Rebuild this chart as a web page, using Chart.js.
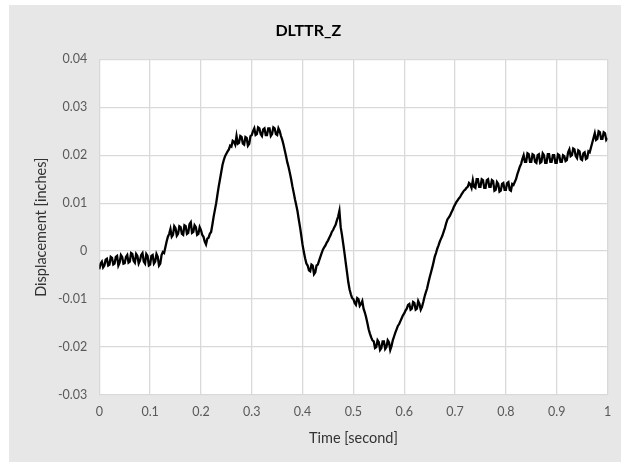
<!DOCTYPE html>
<html>
<head>
<meta charset="utf-8">
<script src="https://cdn.jsdelivr.net/npm/chart.js@4/dist/chart.umd.min.js"></script>
<style>
  html, body { margin: 0; padding: 0; background: #ffffff; }
  #wrap { position: absolute; left: 9px; top: 5px; width: 612px; height: 457px; }
</style>
</head>
<body>
<div id="wrap"><canvas id="c" width="612" height="457"></canvas></div>
<script>
// DLTTR_Z displacement record, sampled every 2.5 ms over one second
const chartTitle = 'DLTTR_Z';
const xTitle = 'Time [second]';
const yTitle = 'Displacement [inches]';
const sampleStep = 0.0025;

// displacement [inches], one value per sample (20 samples = 0.05 s per row)
const displacement = [
  -0.0038, -0.0026, -0.0022, -0.0034, -0.0030, -0.0018, -0.0016, -0.0030, -0.0028, -0.0012, -0.0014, -0.0028, -0.0026, -0.0012, -0.0010, -0.0030, -0.0024, -0.0008, -0.0012, -0.0026,
  -0.0025, -0.0012, -0.0008, -0.0024, -0.0022, -0.0004, -0.0006, -0.0020, -0.0024, -0.0006, -0.0010, -0.0026, -0.0020, -0.0008, -0.0004, -0.0022, -0.0026, -0.0006, -0.0010, -0.0030,
  -0.0028, -0.0010, -0.0008, -0.0026, -0.0022, -0.0006, -0.0012, -0.0030, -0.0026, -0.0008, -0.0002, -0.0004,  0.0008,  0.0020,  0.0030,  0.0036,  0.0046,  0.0030,  0.0034,  0.0052,
   0.0048,  0.0032,  0.0036,  0.0052,  0.0050,  0.0036,  0.0034,  0.0054,  0.0052,  0.0036,  0.0038,  0.0056,  0.0060,  0.0038,  0.0040,  0.0054,  0.0050,  0.0034,  0.0036,  0.0050,
   0.0044,  0.0034,  0.0030,  0.0020,  0.0014,  0.0026,  0.0028,  0.0036,  0.0040,  0.0055,  0.0072,  0.0086,  0.0100,  0.0118,  0.0135,  0.0150,  0.0165,  0.0180,  0.0190,  0.0198,
   0.0203,  0.0208,  0.0212,  0.0220,  0.0218,  0.0230,  0.0228,  0.0222,  0.0240,  0.0224,  0.0226,  0.0240,  0.0238,  0.0224,  0.0222,  0.0238,  0.0236,  0.0220,  0.0224,  0.0240,
   0.0242,  0.0250,  0.0256,  0.0242,  0.0244,  0.0258,  0.0256,  0.0244,  0.0240,  0.0254,  0.0256,  0.0242,  0.0242,  0.0256,  0.0256,  0.0240,  0.0244,  0.0258,  0.0256,  0.0244,
   0.0242,  0.0256,  0.0250,  0.0240,  0.0232,  0.0222,  0.0210,  0.0198,  0.0185,  0.0175,  0.0163,  0.0150,  0.0135,  0.0122,  0.0108,  0.0096,  0.0083,  0.0066,  0.0050,  0.0032,
   0.0013, -0.0002, -0.0015, -0.0026, -0.0030, -0.0040, -0.0042, -0.0028, -0.0030, -0.0048, -0.0044, -0.0030, -0.0028, -0.0020, -0.0012, -0.0004,  0.0003,  0.0008,  0.0012,  0.0018,
   0.0022,  0.0028,  0.0033,  0.0040,  0.0044,  0.0050,  0.0055,  0.0064,  0.0072,  0.0084,  0.0050,  0.0034,  0.0015, -0.0004, -0.0025, -0.0045, -0.0065, -0.0080, -0.0090, -0.0098,
  -0.0100, -0.0108, -0.0112, -0.0098, -0.0100, -0.0114, -0.0110, -0.0104, -0.0120, -0.0128, -0.0138, -0.0150, -0.0163, -0.0172, -0.0180, -0.0186, -0.0188, -0.0202, -0.0200, -0.0186,
  -0.0190, -0.0206, -0.0202, -0.0188, -0.0188, -0.0204, -0.0200, -0.0186, -0.0190, -0.0206, -0.0198, -0.0186, -0.0178, -0.0170, -0.0163, -0.0156, -0.0152, -0.0146, -0.0140, -0.0134,
  -0.0130, -0.0124, -0.0120, -0.0112, -0.0110, -0.0122, -0.0120, -0.0106, -0.0108, -0.0122, -0.0120, -0.0104, -0.0110, -0.0122, -0.0116, -0.0106, -0.0095, -0.0086, -0.0078, -0.0066,
  -0.0055, -0.0045, -0.0035, -0.0024, -0.0012, -0.0004,  0.0005,  0.0012,  0.0020,  0.0026,  0.0032,  0.0040,  0.0048,  0.0058,  0.0066,  0.0070,  0.0074,  0.0080,  0.0085,  0.0092,
   0.0097,  0.0102,  0.0106,  0.0110,  0.0113,  0.0118,  0.0122,  0.0126,  0.0128,  0.0132,  0.0134,  0.0142,  0.0139,  0.0132,  0.0148,  0.0134,  0.0132,  0.0150,  0.0150,  0.0134,
   0.0134,  0.0150,  0.0148,  0.0132,  0.0132,  0.0148,  0.0150,  0.0134,  0.0134,  0.0148,  0.0146,  0.0126,  0.0128,  0.0144,  0.0140,  0.0124,  0.0126,  0.0140,  0.0142,  0.0128,
   0.0128,  0.0142,  0.0144,  0.0128,  0.0126,  0.0140,  0.0138,  0.0144,  0.0150,  0.0160,  0.0168,  0.0176,  0.0182,  0.0192,  0.0200,  0.0186,  0.0186,  0.0204,  0.0202,  0.0186,
   0.0186,  0.0202,  0.0200,  0.0186,  0.0184,  0.0200,  0.0202,  0.0184,  0.0186,  0.0204,  0.0200,  0.0184,  0.0184,  0.0202,  0.0202,  0.0186,  0.0186,  0.0200,  0.0200,  0.0184,
   0.0184,  0.0202,  0.0200,  0.0186,  0.0186,  0.0200,  0.0198,  0.0188,  0.0190,  0.0206,  0.0212,  0.0198,  0.0200,  0.0214,  0.0212,  0.0198,  0.0194,  0.0210,  0.0208,  0.0192,
   0.0190,  0.0204,  0.0206,  0.0192,  0.0194,  0.0208,  0.0206,  0.0216,  0.0226,  0.0236,  0.0246,  0.0232,  0.0234,  0.0250,  0.0248,  0.0234,  0.0234,  0.0248,  0.0246,  0.0232,
   0.0236
];

// axis ranges and tick spacing
const xRange = [0, 1];
const xStep = 0.1;
const yRange = [-0.03, 0.04];
const yStep = 0.01;

const points = displacement.map((v, i) => ({ x: i * sampleStep, y: v }));

const FONT = "Lato, 'Open Sans', sans-serif";
const gridColor = '#d9d9d9';
const labelColor = '#595959';

// white plotting area on the grey chart background
const plotBackground = {
  id: 'plotBackground',
  beforeDraw(chart) {
    const { ctx, chartArea: a } = chart;
    ctx.save();
    ctx.fillStyle = '#e7e7e7';
    ctx.fillRect(0, 0, chart.width, chart.height);
    ctx.fillStyle = '#ffffff';
    ctx.fillRect(a.left, a.top, a.right - a.left, a.bottom - a.top);
    ctx.restore();
  }
};

function trimNumber(v, digits) {
  const s = Number(v.toFixed(digits)).toString();
  return s === '-0' ? '0' : s;
}

new Chart(document.getElementById('c'), {
  type: 'line',
  data: {
    datasets: [{
      data: points,
      borderColor: '#000000',
      borderWidth: 2.3,
      borderJoinStyle: 'miter',
      pointRadius: 0,
      tension: 0,
      fill: false
    }]
  },
  options: {
    responsive: false,
    animation: false,
    events: [],
    layout: { padding: { left: 0, right: 13.5, top: 0, bottom: 0 } },
    plugins: {
      legend: { display: false },
      tooltip: { enabled: false },
      title: {
        display: true,
        text: chartTitle,
        color: '#000000',
        font: { family: FONT, size: 16, weight: 'bold' },
        padding: { top: 16, bottom: 19.1 }
      }
    },
    scales: {
      x: {
        type: 'linear',
        min: xRange[0],
        max: xRange[1],
        afterFit(scale) { scale.height = 67; },
        ticks: {
          stepSize: xStep,
          color: labelColor,
          font: { family: FONT, size: 12.5 },
          padding: 9,
          maxRotation: 0,
          callback: (v) => trimNumber(v, 1)
        },
        grid: { color: gridColor, lineWidth: 1.3, drawTicks: false },
        border: { display: false },
        title: {
          display: true,
          text: xTitle,
          color: '#333333',
          font: { family: FONT, size: 14.5 },
          padding: { top: 0, bottom: 15.3 }
        }
      },
      y: {
        type: 'linear',
        min: yRange[0],
        max: yRange[1],
        afterFit(scale) { scale.width = 90.3; },
        ticks: {
          stepSize: yStep,
          color: labelColor,
          font: { family: FONT, size: 12.5 },
          padding: 12,
          callback: (v) => trimNumber(v, 2)
        },
        grid: { color: gridColor, lineWidth: 1.3, drawTicks: false },
        border: { display: false },
        title: {
          display: true,
          text: yTitle,
          color: '#333333',
          font: { family: FONT, size: 14.5 },
          padding: { top: 23.3, bottom: 0 }
        }
      }
    }
  },
  plugins: [plotBackground]
});
</script>
</body>
</html>
